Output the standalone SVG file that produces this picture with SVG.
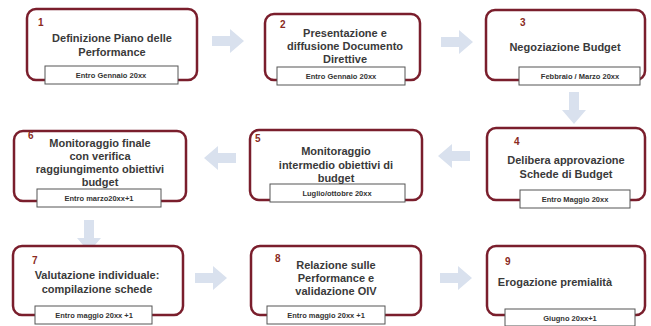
<svg xmlns="http://www.w3.org/2000/svg" width="651" height="326" viewBox="0 0 651 326">
<style>
.box{fill:#fff;stroke:#7a1e2c;stroke-width:2.5}
.date{fill:#fff;stroke:#555;stroke-width:1}
.num{font-family:"Liberation Sans",Arial,sans-serif;font-size:10px;font-weight:700;fill:#8a2a22}
.t{font-family:"Liberation Sans",Arial,sans-serif;font-size:11px;font-weight:700;fill:#3a3a3a;text-anchor:middle}
.d{font-family:"Liberation Sans",Arial,sans-serif;font-size:7.5px;font-weight:700;fill:#333;text-anchor:middle}
.arr{fill:#d9e1ee}
</style>
<defs>
<path id="ar" d="M0,7 H18 V0 L32,12 L18,24 V17 H0 Z"/>
</defs>
<rect width="651" height="326" fill="#fff"/>
<g id="connectors" class="arr">
<use href="#ar" transform="translate(212,29)"/>
<use href="#ar" transform="translate(441,30)"/>
<use href="#ar" transform="translate(586,92) rotate(90)"/>
<use href="#ar" transform="translate(470,168) rotate(180)"/>
<use href="#ar" transform="translate(236,170) rotate(180)"/>
<use href="#ar" transform="translate(101,220) rotate(90)"/>
<use href="#ar" transform="translate(195,266)"/>
<use href="#ar" transform="translate(440,266)"/>
</g>
<g id="n1">
<rect class="box" x="27" y="9" width="170" height="71" rx="9"/>
<rect class="date" x="45" y="66" width="133" height="18"/>
<text class="num" x="38" y="26">1</text>
<text class="t" x="112" y="42">Definizione Piano delle</text>
<text class="t" x="112" y="56">Performance</text>
<text class="d" x="111" y="78">Entro Gennaio 20xx</text>
</g>
<g id="n2">
<rect class="box" x="265" y="14" width="155" height="66" rx="9"/>
<rect class="date" x="277" y="67" width="128" height="18"/>
<text class="num" x="280" y="28">2</text>
<text class="t" x="345" y="37">Presentazione e</text>
<text class="t" x="345" y="50">diffusione Documento</text>
<text class="t" x="345" y="63">Direttive</text>
<text class="d" x="341" y="79">Entro Gennaio 20xx</text>
</g>
<g id="n3">
<rect class="box" x="486" y="10" width="159" height="70" rx="9"/>
<rect class="date" x="519" y="67" width="121" height="18"/>
<text class="num" x="520" y="26">3</text>
<text class="t" x="565" y="51">Negoziazione Budget</text>
<text class="d" x="580" y="79">Febbraio / Marzo 20xx</text>
</g>
<g id="n4">
<rect class="box" x="487" y="128" width="158" height="72" rx="9"/>
<rect class="date" x="520" y="190" width="110" height="18"/>
<text class="num" x="514" y="145">4</text>
<text class="t" x="566" y="164">Delibera approvazione</text>
<text class="t" x="566" y="178">Schede di Budget</text>
<text class="d" x="575" y="202">Entro Maggio 20xx</text>
</g>
<g id="n5">
<rect class="box" x="250" y="130" width="172" height="70" rx="9"/>
<rect class="date" x="270" y="184" width="135" height="18"/>
<text class="num" x="255" y="142">5</text>
<text class="t" x="336" y="155">Monitoraggio</text>
<text class="t" x="336" y="168.5">intermedio obiettivi di</text>
<text class="t" x="336" y="182">budget</text>
<text class="d" x="337" y="196">Luglio/ottobre 20xx</text>
</g>
<g id="n6">
<rect class="box" x="14" y="131" width="172" height="70" rx="9"/>
<rect class="date" x="37" y="189" width="124" height="18"/>
<text class="num" x="28" y="139">6</text>
<text class="t" x="100" y="147">Monitoraggio finale</text>
<text class="t" x="100" y="160">con verifica</text>
<text class="t" x="100" y="173">raggiungimento obiettivi</text>
<text class="t" x="100" y="186">budget</text>
<text class="d" x="99" y="201">Entro marzo20xx+1</text>
</g>
<g id="n7">
<rect class="box" x="13" y="246" width="170" height="69" rx="9"/>
<rect class="date" x="35" y="306" width="117" height="18"/>
<text class="num" x="32" y="264">7</text>
<text class="t" x="97" y="279">Valutazione individuale:</text>
<text class="t" x="97" y="293">compilazione schede</text>
<text class="d" x="94" y="318">Entro  maggio 20xx +1</text>
</g>
<g id="n8">
<rect class="box" x="251" y="246" width="170" height="69" rx="9"/>
<rect class="date" x="267" y="306" width="118" height="18"/>
<text class="num" x="275" y="262">8</text>
<text class="t" x="336" y="269">Relazione sulle</text>
<text class="t" x="336" y="282">Performance e</text>
<text class="t" x="336" y="295">validazione OIV</text>
<text class="d" x="326" y="318">Entro maggio 20xx +1</text>
</g>
<g id="n9">
<rect class="box" x="487" y="246" width="158" height="69" rx="9"/>
<rect class="date" x="505" y="309" width="130" height="17"/>
<text class="num" x="505" y="265">9</text>
<text class="t" x="555" y="286">Erogazione premialità</text>
<text class="d" x="570" y="321">Giugno  20xx+1</text>
</g>
</svg>
